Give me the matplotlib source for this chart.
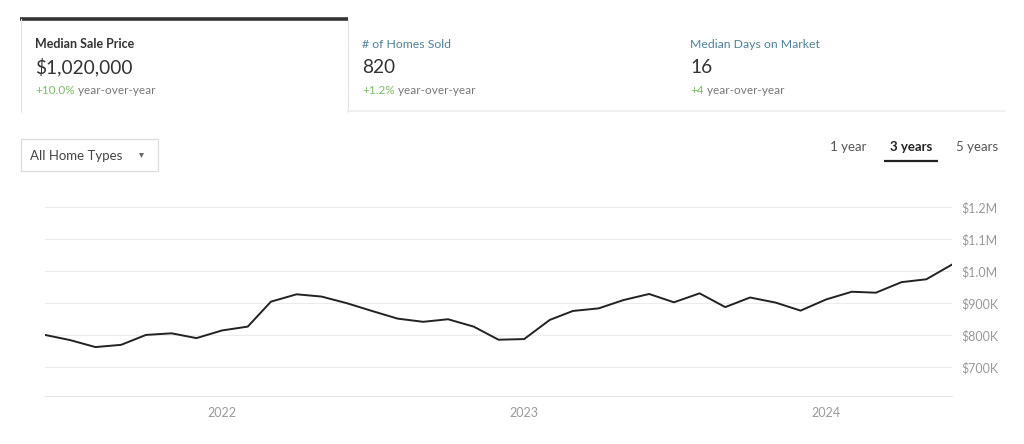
import matplotlib.pyplot as plt
import matplotlib.dates as mdates
import pandas as pd
from matplotlib import ticker
from matplotlib.patches import Rectangle

plt.rcParams['font.family'] = ['Lato', 'DejaVu Sans']

# monthly median sale price, Jun 2021 - Jun 2024
months = pd.date_range('2021-06-01', '2024-06-01', freq='MS')
price = [800, 784, 762, 769, 800, 805, 790, 814, 826, 904,
         927, 920, 899, 875, 851, 841, 849, 826, 785, 787,
         847, 875, 883, 909, 928, 902, 930, 887, 917, 901,
         876, 911, 935, 932, 965, 974, 1020]
price = [p * 1000 for p in price]

# header cards
card_titles = ['Median Sale Price', '# of Homes Sold', 'Median Days on Market']
card_values = ['$1,020,000', '820', '16']
card_changes = ['+10.0%', '+1.2%', '+4']
card_x = [35, 362, 690]

ranges = ['1 year', '3 years', '5 years']
range_x = [848, 911, 977]
selected_range = '3 years'

y_ticks = [700000, 800000, 900000, 1000000, 1100000, 1200000]
y_labels = ['$700K', '$800K', '$900K', '$1.0M', '$1.1M', '$1.2M']
year_ticks = ['2022-01-01', '2023-01-01', '2024-01-01']

W, H = 1024, 444
fig = plt.figure(figsize=(W / 100, H / 100), dpi=100)

# overlay in pixel coords for the page chrome
bg = fig.add_axes([0, 0, 1, 1])
bg.set_xlim(0, W)
bg.set_ylim(H, 0)
bg.axis('off')

grey_line = '#e4e4e4'
bg.plot([20, 348], [19.5, 19.5], color='#333333', lw=2.6, solid_capstyle='butt')
bg.plot([20.5, 20.5], [19, 112], color=grey_line, lw=0.8)
bg.plot([348, 348], [19, 112], color=grey_line, lw=0.8)
bg.plot([348, 1005], [111.5, 111.5], color='#eeeeee', lw=1.2)

for i, (t, v, c, x) in enumerate(zip(card_titles, card_values, card_changes, card_x)):
    if i == 0:
        bg.text(x, 44, t, fontsize=9, fontweight='bold', color='#333333', va='center')
    else:
        bg.text(x, 44, t, fontsize=8.8, color='#4f8199', va='center')
    bg.text(x, 67.5, v, fontsize=13.8, color='#333333', va='center')
    tc = bg.text(x, 91, c, fontsize=8.5, color='#7cbb68', va='center')
    bg.annotate(' year-over-year', xycoords=tc, xy=(1, 0.5), va='center',
                fontsize=8.5, color='#777777')

# dropdown
bg.add_patch(Rectangle((20.5, 139), 137, 32, fill=False, edgecolor='#dcdcdc', lw=0.9))
bg.text(30, 155.5, 'All Home Types', fontsize=9.5, color='#444444', va='center')
bg.plot(141, 155, marker='v', ms=3.5, color='#666666', mec='none')

# range buttons
for r, x in zip(ranges, range_x):
    if r == selected_range:
        bg.text(x, 147, r, fontsize=9.5, fontweight='bold', color='#222222', ha='center', va='center')
        bg.plot([884, 938], [161, 161], color='#222222', lw=1.6, solid_capstyle='butt')
    else:
        bg.text(x, 147, r, fontsize=9.5, color='#555555', ha='center', va='center')

# chart
ymin, ymax = 609000, 1210000
top_px = 207 - (ymax - 1200000) / 100000 * 32
ax = fig.add_axes([45 / W, (H - 396) / H, (952 - 45) / W, (396 - top_px) / H])
ax.patch.set_alpha(0)
ax.plot(months, price, color='#222222', lw=1.4, solid_joinstyle='round', zorder=3)
ax.set_xlim(pd.Timestamp('2021-06-01'), pd.Timestamp('2024-06-01'))
ax.set_ylim(ymin, ymax)

ax.yaxis.tick_right()
ax.set_yticks(y_ticks)
ax.set_yticklabels(y_labels)
ax.set_xticks(pd.to_datetime(year_ticks))
ax.xaxis.set_major_formatter(mdates.DateFormatter('%Y'))
ax.tick_params(axis='both', length=0, labelsize=9, labelcolor='#9a9a9a')
ax.tick_params(axis='y', pad=7)
ax.tick_params(axis='x', pad=8)
ax.grid(axis='y', color='#ececec', lw=0.8)
for s in ['top', 'left', 'right']:
    ax.spines[s].set_visible(False)
ax.spines['bottom'].set_color('#e6e6e6')
ax.spines['bottom'].set_linewidth(0.8)

fig.savefig('out.png', dpi=100)
